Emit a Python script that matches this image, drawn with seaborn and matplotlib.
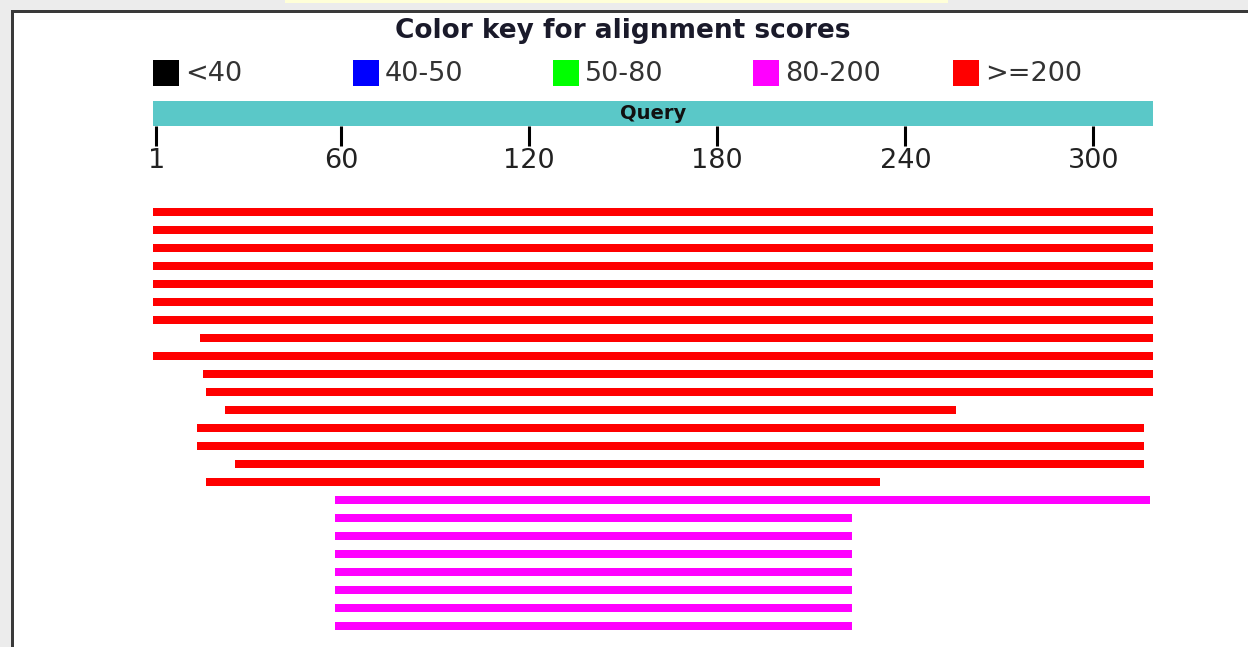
import pandas as pd
import seaborn as sns
import matplotlib.pyplot as plt
from matplotlib.patches import Rectangle

# query and score key
query_len = 319
tick_values = [1, 60, 120, 180, 240, 300]
key_labels = ["<40", "40-50", "50-80", "80-200", ">=200"]
key_colors = ["#000000", "#0000ff", "#00ff00", "#ff00ff", "#ff0000"]

# hits, top to bottom
hit_start = [1, 1, 1, 1, 1, 1, 1, 16, 1, 17, 18, 24, 15, 15, 27, 18,
             59, 59, 59, 59, 59, 59, 59, 59]
hit_end = [319, 319, 319, 319, 319, 319, 319, 319, 319, 319, 319, 256, 316, 316, 316, 232,
           318, 223, 223, 223, 223, 223, 223, 223]
hit_score = [">=200"] * 16 + ["80-200"] * 8

W, H = 1248, 647


def px_box(x0, y0, x1, y1):
    # pixel box (top-left origin) -> figure fraction rect
    return [x0 / W, 1 - y1 / H, (x1 - x0) / W, (y1 - y0) / H]


def main() -> None:
    hits = pd.DataFrame({"start": hit_start, "end": hit_end, "score": hit_score})
    hits["row"] = range(len(hits))
    hits["left"] = hits["start"] - 1
    hits["length"] = hits["end"] - hits["left"]
    palette = dict(zip(key_labels, key_colors))

    sns.set_theme(style="white")
    plt.rcParams["font.family"] = ["DejaVu Sans"]

    fig = plt.figure(figsize=(W / 100, H / 100), dpi=100)
    fig.patch.set_facecolor("white")

    # page background and frame
    fig.patches.append(Rectangle((0, 0), 11 / W, 1, transform=fig.transFigure,
                                 facecolor="#ececec", edgecolor="none", zorder=0))
    fig.patches.append(Rectangle((0, 1 - 10 / H), 1, 10 / H, transform=fig.transFigure,
                                 facecolor="#ececec", edgecolor="none", zorder=0))
    fig.patches.append(Rectangle((285 / W, 1 - 3 / H), 663 / W, 3 / H, transform=fig.transFigure,
                                 facecolor="#ffffd8", edgecolor="none", zorder=1))
    fig.patches.append(Rectangle((11 / W, 0), 2.5 / W, 1 - 10 / H, transform=fig.transFigure,
                                 facecolor="#3a3a3a", edgecolor="none", zorder=2))
    fig.patches.append(Rectangle((11 / W, 1 - 12.5 / H), 1, 2.5 / H, transform=fig.transFigure,
                                 facecolor="#3a3a3a", edgecolor="none", zorder=2))

    # title and colour key
    fig.text(623 / W, 1 - 31 / H, "Color key for alignment scores", ha="center", va="center",
             fontsize=19, fontweight="bold", color="#1a1a2a")
    for i, (lab, col) in enumerate(zip(key_labels, key_colors)):
        x0 = 153 + 200 * i
        fig.patches.append(Rectangle((x0 / W, 1 - 86 / H), 26 / W, 26 / H,
                                     transform=fig.transFigure, facecolor=col,
                                     edgecolor="none"))
        fig.text((x0 + 32) / W, 1 - 74 / H, lab, ha="left", va="center",
                 fontsize=19.5, color="#333333")

    # query bar with position ticks
    qax = fig.add_axes(px_box(153, 101, 1153, 126))
    qax.set_xlim(0, query_len)
    qax.set_ylim(0, 1)
    qax.set_facecolor("#5ac8c8")
    for s in qax.spines.values():
        s.set_visible(False)
    qax.set_yticks([])
    qax.set_xticks(tick_values)
    qax.set_xticklabels([str(t) for t in tick_values])
    qax.tick_params(axis="x", bottom=True, direction="out", length=14.4, width=2.2,
                    color="black", labelsize=19.5, labelcolor="#222222", pad=1.5)
    qax.text(query_len / 2, 0.5, "Query", ha="center", va="center",
             fontsize=14, fontweight="bold", color="#111111")

    # hits
    ax = fig.add_axes(px_box(153, 200, 1153, H))
    for score, grp in hits.groupby("score"):
        ax.barh(grp["row"], grp["length"], left=grp["left"], height=0.45,
                color=palette[score], edgecolor="none")
    ax.set_xlim(0, query_len)
    ax.set_ylim((H - 212) / 18, -12 / 18)
    ax.axis("off")

    fig.savefig("out.png", dpi=100)


if __name__ == "__main__":
    main()
